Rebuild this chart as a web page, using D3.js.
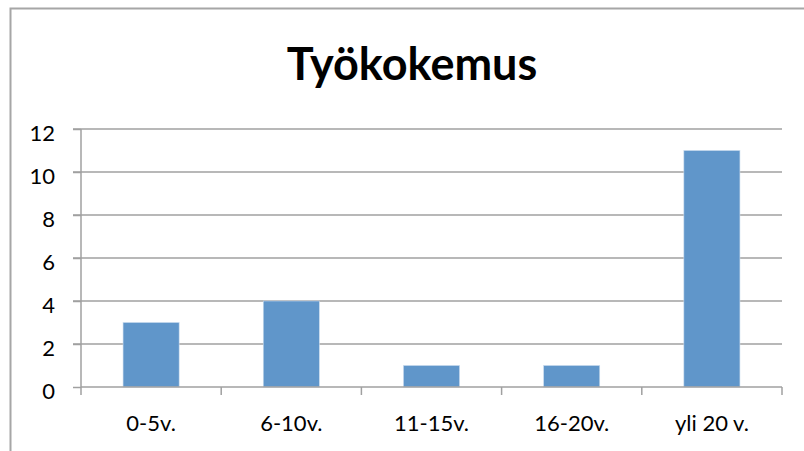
<!DOCTYPE html>
<html><head><meta charset="utf-8">
<script src="https://cdn.jsdelivr.net/npm/d3@7"></script>
<style>body{margin:0;background:#fff}svg{display:block}</style>
</head><body>
<script>
const categories = ["0-5v.", "6-10v.", "11-15v.", "16-20v.", "yli 20 v."];
const values = [3, 4, 1, 1, 11];
const yTicks = [0, 2, 4, 6, 8, 10, 12];
const title = "Työkokemus";

const W = 804, H = 451;
const svg = d3.select("body").append("svg").attr("width", W).attr("height", H);
const font = "Lato, 'Open Sans', sans-serif";

// chart border (left + top visible)
svg.append("path").attr("d", `M10.5,${H} L10.5,8.5 L${W},8.5`)
  .attr("fill", "none").attr("stroke", "#a6a6a6").attr("stroke-width", 2);

const m = {l: 81, r: 782, t: 129, b: 387};
const x = d3.scaleBand().domain(categories).range([m.l, m.r]).paddingInner(0.6).paddingOuter(0.3);
const xb = d3.scaleBand().domain(categories).range([m.l, m.r]);
const y = d3.scaleLinear().domain([0, 12]).range([m.b, m.t]);

svg.append("text").attr("x", 412).attr("y", 80).attr("text-anchor", "middle")
  .attr("font-family", font).attr("font-weight", "bold").attr("font-size", 45).attr("fill", "#000").text(title);

// gridlines
svg.append("g").selectAll("line").data(yTicks.filter(d => d > 0)).join("line")
  .attr("x1", m.l - 8).attr("x2", m.r).attr("y1", d => y(d)).attr("y2", d => y(d))
  .attr("stroke", "#a0a0a0").attr("stroke-width", 1.5);

// bars
svg.append("g").selectAll("rect").data(values).join("rect")
  .attr("x", (d, i) => x(categories[i])).attr("width", x.bandwidth())
  .attr("y", d => y(d)).attr("height", d => y(0) - y(d))
  .attr("fill", "#6096ca").attr("stroke", "#c9dbee").attr("stroke-width", 0.6);

// y axis
const yAxis = svg.append("g").attr("transform", `translate(${m.l},0)`)
  .call(d3.axisLeft(y).tickValues(yTicks).tickSize(8).tickPadding(18).tickFormat(d3.format("d")));
yAxis.select(".domain").attr("stroke", "#a0a0a0").attr("stroke-width", 1.5).attr("d", `M0,${m.t}V${m.b}`);
yAxis.selectAll(".tick line").attr("stroke", "#a0a0a0").attr("stroke-width", 1.5);
yAxis.selectAll(".tick text").attr("font-family", font).attr("font-size", 22).attr("fill", "#000").attr("dy", "0.5em");

// x axis
const xAxis = svg.append("g").attr("transform", `translate(0,${m.b})`)
  .call(d3.axisBottom(xb).tickSize(0).tickPadding(24));
xAxis.select(".domain").attr("stroke", "#a0a0a0").attr("stroke-width", 1.5).attr("d", `M${m.l},0H${m.r}`);
xAxis.selectAll(".tick text").attr("font-family", font).attr("font-size", 22).attr("fill", "#000")
  .attr("y", 44).attr("dy", 0);
// category boundary tick marks
const bounds = categories.map(c => xb(c)).concat([m.r]);
xAxis.append("g").selectAll("line").data(bounds).join("line")
  .attr("x1", d => d).attr("x2", d => d).attr("y1", 0).attr("y2", 8)
  .attr("stroke", "#a0a0a0").attr("stroke-width", 1.5);
</script>
</body></html>
